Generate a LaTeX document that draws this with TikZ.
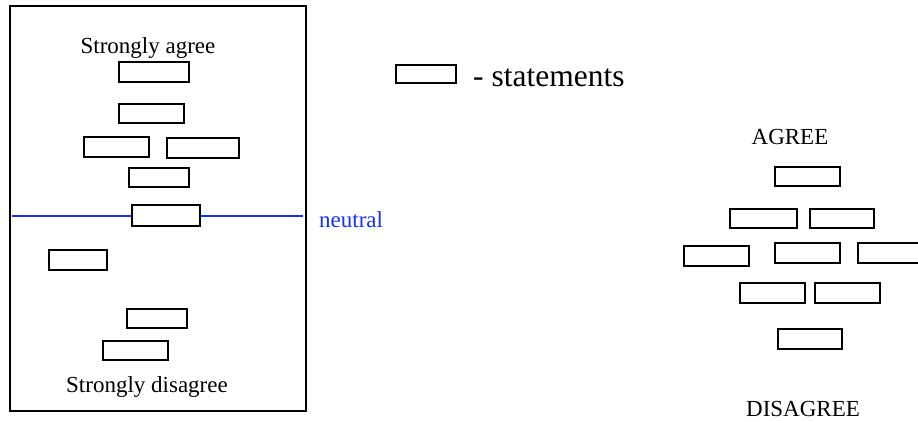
\documentclass[tikz,border=0pt]{standalone}
\usepackage{fontspec}
\setmainfont{Liberation Serif}
\usetikzlibrary{backgrounds}
\definecolor{neutralblue}{RGB}{20,50,255}
\begin{document}
\begin{tikzpicture}[x=1pt,y=-1pt,
  stmt/.style={draw=black, line width=1.4pt, fill=white, inner sep=0pt},
  lbl/.style={inner sep=0pt, font=\fontsize{23}{27}\selectfont},
  neutralline/.style={neutralblue, line width=2pt}]
\useasboundingbox (0,0) rectangle (918,421);
% frame
\node[draw, line width=1.3pt, inner sep=0pt, minimum width=296pt, minimum height=405pt] (frame) at (158,208.5) {};
% neutral line
\coordinate (nl) at (12,216);
\coordinate (nr) at (303,216);
\node[stmt, minimum width=68pt, minimum height=21pt] (L6) at (166,215.5) {};
\begin{pgfonlayer}{background}
\draw[neutralline] (nl) -- (nr);
\end{pgfonlayer}
\node[lbl, anchor=base west, text=neutralblue] (neutral) at (319,227) {neutral};
% left labels
\node[lbl, anchor=base] (sa) at (148,53) {Strongly agree};
\node[lbl, anchor=base] (sd) at (147,392) {Strongly disagree};
% left statements
\node[stmt, minimum width=70pt, minimum height=20pt] (L1) at (154,72) {};
\node[stmt, minimum width=65pt, minimum height=19pt] (L2) at (151.5,113.5) {};
\node[stmt, minimum width=65pt, minimum height=20pt] (L3) at (116.5,147) {};
\node[stmt, minimum width=72pt, minimum height=20pt] (L4) at (203,148) {};
\node[stmt, minimum width=60pt, minimum height=19pt] (L5) at (159,177.5) {};
\node[stmt, minimum width=58pt, minimum height=20pt] (L7) at (78,260) {};
\node[stmt, minimum width=60pt, minimum height=19pt] (L8) at (157,318.5) {};
\node[stmt, minimum width=65pt, minimum height=19pt] (L9) at (135.5,350.5) {};
% legend
\node[stmt, minimum width=60pt, minimum height=18pt] (leg) at (426,74) {};
\node[inner sep=0pt, anchor=base west, font=\fontsize{31.5}{36}\selectfont] (legtext) at (473,86) {- statements};
% right side
\node[lbl, anchor=base] (agree) at (790,144) {AGREE};
\node[lbl, anchor=base] (disagree) at (803,416.5) {DISAGREE};
\node[stmt, minimum width=65pt, minimum height=19pt] (R1) at (807.5,176.5) {};
\node[stmt, minimum width=67pt, minimum height=19pt] (R2) at (763.5,218.5) {};
\node[stmt, minimum width=64pt, minimum height=19pt] (R3) at (842,218.5) {};
\node[stmt, minimum width=65pt, minimum height=20pt] (R4) at (716.5,256) {};
\node[stmt, minimum width=65pt, minimum height=20pt] (R5) at (807.5,253) {};
\node[stmt, minimum width=67pt, minimum height=20pt] (R6) at (891.5,253) {};
\node[stmt, minimum width=65pt, minimum height=20pt] (R7) at (772.5,293) {};
\node[stmt, minimum width=65pt, minimum height=20pt] (R8) at (847.5,293) {};
\node[stmt, minimum width=64pt, minimum height=20pt] (R9) at (810,339) {};
\end{tikzpicture}
\end{document}
